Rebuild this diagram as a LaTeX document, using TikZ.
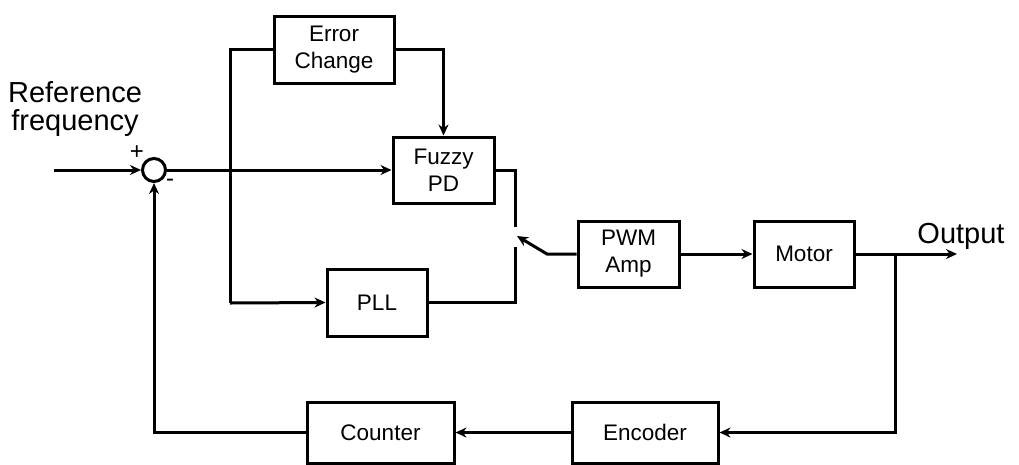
\documentclass[tikz,border=0pt]{standalone}
\usepackage{fontspec}
\setmainfont{Liberation Sans}
\usetikzlibrary{arrows.meta}
\begin{document}
\begin{tikzpicture}[x=1pt,y=-1pt,
  line width=3pt,
  blk/.style={draw, rectangle, inner sep=0pt, align=center,
    font=\fontsize{22.5}{27}\selectfont},
  lbl/.style={inner sep=0pt, align=center, font=\fontsize{29}{28}\selectfont},
  sgn/.style={inner sep=0pt, font=\fontsize{24}{24}\selectfont},
  arr/.style={-{Stealth[length=11pt,width=10pt]}}]
\useasboundingbox (0,0) rectangle (1019,464);
% blocks
\node[blk, minimum width=120pt, minimum height=67pt] (err) at (334,49.5) {Error\\Change};
\node[blk, minimum width=101pt, minimum height=66pt] (fuz) at (443.5,170) {Fuzzy\\PD};
\node[blk, minimum width=100pt, minimum height=67pt] (pll) at (377,302.5) {PLL};
\node[blk, minimum width=101pt, minimum height=66pt] (pwm) at (628.5,254) {PWM\\Amp};
\node[blk, minimum width=100pt, minimum height=66pt] (mot) at (804,254) {Motor};
\node[blk, minimum width=146pt, minimum height=61pt] (enc) at (645,432.5) {Encoder};
\node[blk, minimum width=147pt, minimum height=61pt] (cnt) at (380.5,432.5) {Counter};
% summing junction
\node[draw, circle, minimum size=23pt, inner sep=0pt] (sum) at (154,170) {};
\node[sgn] (plus) at (137,153) {+};
\node[sgn] (minus) at (170,183) {-};
% labels
\node[lbl] (ref) at (75,109) {Reference\\frequency};
\node[lbl, anchor=base] (out) at (961,243) {Output};
% coordinates
\coordinate (in) at (54,170);
\coordinate (jb) at (230,303);
\coordinate (sa) at (515,227);
\coordinate (sb) at (515,247);
\coordinate (sw) at (547,254);
\coordinate (tip) at (517,236);
\coordinate (o) at (957,254);
\coordinate (br) at (895,254);
% connectors
\draw[arr] (in) -- (sum.west);
\draw[arr] (sum.east) -- (fuz.west);
\draw (err.west) -| (jb);
\draw[arr] (jb) -- (pll.west);
\draw[arr] (err.east) -| (fuz.north);
\draw (fuz.east) -| (sa);
\draw (sb) |- (pll.east);
\draw[arr] (pwm.west) -- (sw) -- (tip);
\draw[arr] (pwm.east) -- (mot.west);
\draw[arr] (mot.east) -- (o);
\draw[arr] (br) |- (enc.east);
\draw[arr] (enc.west) -- (cnt.east);
\draw[arr] (cnt.west) -| (sum.south);
\end{tikzpicture}
\end{document}
